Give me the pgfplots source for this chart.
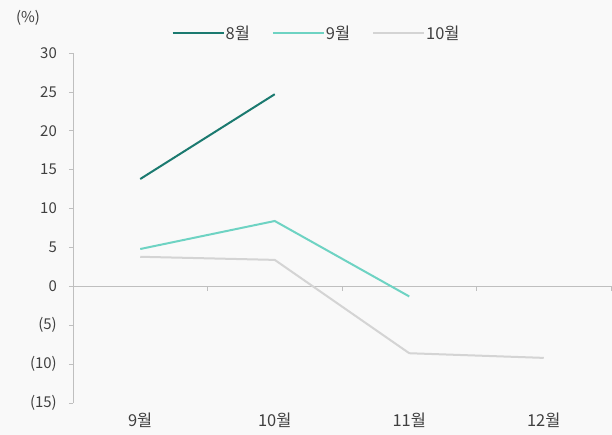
\documentclass[border=0pt]{standalone}
\usepackage{fontspec}
\setmainfont{Noto Sans CJK KR}
\usepackage{pgfplots}
\pgfplotsset{compat=1.18}
\definecolor{bg}{HTML}{F9F9F9}
\definecolor{axisgray}{HTML}{BFBFBF}
\definecolor{txt}{HTML}{404040}
\definecolor{cAug}{HTML}{1B7A70}
\definecolor{cSep}{HTML}{6ED3C3}
\definecolor{cOct}{HTML}{D4D4D4}
\newcommand{\fs}{\fontsize{16.5}{18}\selectfont}
\newcommand{\fy}{\fontsize{15}{17}\selectfont}
\begin{document}
\begin{tikzpicture}
\fill[bg] (-73bp,-32bp) rectangle (539bp,403bp);
\begin{axis}[
  at={(0,0)}, anchor=south west,
  scale only axis, width=538bp, height=350bp,
  xmin=-0.5, xmax=3.5, ymin=-15, ymax=30,
  axis x line=none,
  axis y line*=left,
  y axis line style={draw=axisgray, line width=0.6bp},
  ytick={-15,-10,...,30},
  yticklabels={(15),(10),(5),0,5,10,15,20,25,30},
  ytick style={draw=axisgray, line width=0.6bp},
  tick align=outside, major tick length=4bp,
  yticklabel style={font=\fy, text=txt, inner sep=2bp, xshift=-10bp},
  clip=false,
  legend style={at={(0.452,1)}, anchor=center, yshift=20bp, draw=none, fill=none,
    legend columns=3, font=\fs, text=txt,
    nodes={inner sep=1bp},
    /tikz/every even column/.append style={column sep=21bp}},
  legend image code/.code={\draw[#1] (0bp,0bp) -- (51bp,0bp);},
  every axis plot/.append style={line width=2bp},
]
\draw[axisgray, line width=0.6bp] (axis cs:-0.5,0) -- (axis cs:3.5,0);
\draw[axisgray, line width=0.6bp] (axis cs:0.5,0) -- ++(0bp,-5bp);
\draw[axisgray, line width=0.6bp] (axis cs:1.5,0) -- ++(0bp,-5bp);
\draw[axisgray, line width=0.6bp] (axis cs:2.5,0) -- ++(0bp,-5bp);
\draw[axisgray, line width=0.6bp] (axis cs:3.5,0) -- ++(0bp,-5bp);
\node[text=txt, font=\fs, anchor=north, yshift=-6bp] at (axis cs:0,-15) {9월};
\node[text=txt, font=\fs, anchor=north, yshift=-6bp] at (axis cs:1,-15) {10월};
\node[text=txt, font=\fs, anchor=north, yshift=-6bp] at (axis cs:2,-15) {11월};
\node[text=txt, font=\fs, anchor=north, yshift=-6bp] at (axis cs:3,-15) {12월};
\node[text=txt, font=\fy, xshift=-45bp, yshift=35bp] at (rel axis cs:0,1) {(\%)};
\addplot[cAug] coordinates {(0,13.8) (1,24.7)};
\addlegendentry{8월}
\addplot[cSep] coordinates {(0,4.8) (1,8.4) (2,-1.3)};
\addlegendentry{9월}
\addplot[cOct] coordinates {(0,3.8) (1,3.4) (2,-8.6) (3,-9.2)};
\addlegendentry{10월}
\end{axis}
\end{tikzpicture}
\end{document}
